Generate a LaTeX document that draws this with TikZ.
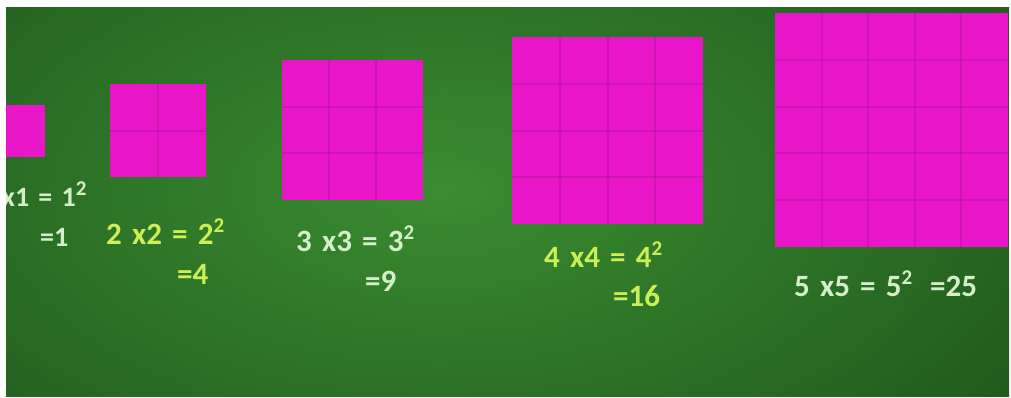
\documentclass[tikz,border=0pt]{standalone}
\usepackage{fontspec}
\setmainfont[WordSpace=1.45]{Carlito}
\definecolor{boardDark}{HTML}{1E561B}
\definecolor{boardLight}{HTML}{3A8C31}
\definecolor{magentaSq}{HTML}{E816C8}
\definecolor{gridMag}{HTML}{B0129A}
\definecolor{chalkWhite}{HTML}{D6EEC9}
\definecolor{chalkYellow}{HTML}{CDEE55}
\newcommand\sqr[1]{\raisebox{0.36em}{\fontsize{21}{23}\selectfont #1}}
\tikzset{
  sqfill/.style={fill=magentaSq},
  gridl/.style={draw=gridMag, line width=2pt, opacity=0.45},
  chalk/.style={font=\bfseries\fontsize{31}{34}\selectfont, inner sep=0pt, anchor=base west},
  wchalk/.style={chalk, text=chalkWhite},
  ychalk/.style={chalk, text=chalkYellow},
  smallchalk/.style={font=\bfseries\fontsize{28}{30}\selectfont},
}
\newcommand\magsq[5]{%
  \fill[sqfill] (#1,#2) rectangle (#3,#4);
  \foreach \k in {1,...,4}{%
    \ifnum\k<#5\relax
      \draw[gridl] ({#1+(#3-#1)*\k/#5},#2) -- ({#1+(#3-#1)*\k/#5},#4);
      \draw[gridl] (#1,{#2+(#4-#2)*\k/#5}) -- (#3,{#2+(#4-#2)*\k/#5});
    \fi
  }%
}
\begin{document}
\begin{tikzpicture}[x=1pt,y=-1pt]
\useasboundingbox (0,0) rectangle (1011,397);
\fill[white] (0,0) rectangle (1011,397);
\begin{scope}
  \clip (6,7) rectangle (1009,396);
  \fill[boardDark] (6,7) rectangle (1009,396);
  \shade[inner color=boardLight, outer color=boardDark] (440,190) ellipse [x radius=760, y radius=400];
  % squares
  \fill[sqfill] (-7,105) rectangle (45,157);
  \magsq{110}{84}{206}{177}{2}
  \magsq{282}{60}{423}{200}{3}
  \magsq{512}{37}{703}{224}{4}
  \magsq{775}{13}{1008}{247}{5}
  % labels
  \node[wchalk, smallchalk] (t1) at (2,206) {x1 = 1\sqr{2}};
  \node[wchalk, smallchalk] (r1) at (40,246) {=1};
  \node[ychalk] (t2) at (106,244) {2 x2 = 2\sqr{2}};
  \node[ychalk] (r2) at (177,284) {=4};
  \node[wchalk] (t3) at (296,251) {3 x3 = 3\sqr{2}};
  \node[wchalk] (r3) at (365,291) {=9};
  \node[ychalk] (t4) at (544,267) {4 x4 = 4\sqr{2}};
  \node[ychalk] (r4) at (613,306) {=16};
  \node[wchalk] (t5) at (794,296) {5 x5 = 5\sqr{2}\hspace{18pt}=25};
\end{scope}
\end{tikzpicture}
\end{document}
